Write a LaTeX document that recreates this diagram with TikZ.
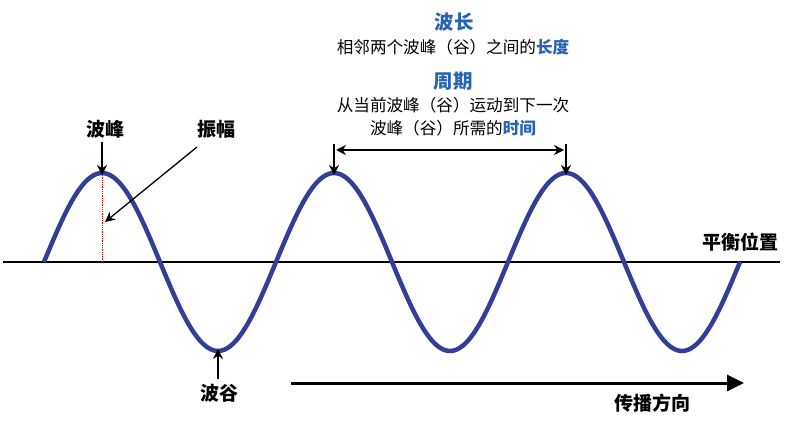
\documentclass[tikz,border=0pt]{standalone}
\usepackage{fontspec}
\setmainfont{Noto Sans CJK SC}
\usetikzlibrary{arrows.meta}
\definecolor{wavec}{RGB}{52,62,152}
\definecolor{titc}{RGB}{40,100,180}
\begin{document}
\begin{tikzpicture}[x=1pt,y=-1pt,
  wave/.style={wavec,line width=4.5pt},
  axisline/.style={black,line width=2.5pt},
  ptr/.style={black,line width=1.5pt,-{Stealth[length=10pt,width=10pt]}},
  dptr/.style={black,line width=1.5pt,{Stealth[length=10pt,width=10pt]}-{Stealth[length=10pt,width=10pt]}},
  lbl/.style={font=\fontsize{19}{21}\selectfont\bfseries,inner sep=0pt},
  desc/.style={font=\fontsize{16.6}{19}\selectfont,inner sep=0pt},
  tit/.style={font=\fontsize{19.5}{21}\selectfont\bfseries,text=titc,inner sep=0pt}]
\useasboundingbox (0,0) rectangle (787,422);
% axis
\coordinate (axL) at (3,262);
\coordinate (axR) at (780,262);
\draw[axisline] (axL) -- (axR);
% amplitude red dashed
\coordinate (p1) at (102,173);
\coordinate (p1b) at (102,262);
\draw[red!85!black,line width=0.8pt,densely dotted] (p1) -- (p1b);
% wave
\draw[wave] plot[domain=44:740,samples=240,smooth] (\x,{262-89*sin((\x-44)/232*360)});
\coordinate (p2) at (334,173);
\coordinate (p3) at (566,173);
\coordinate (t1) at (218,351);
% labels
\node[lbl] (bf) at (105,129) {波峰};
\node[lbl] (zf) at (216,129) {振幅};
\node[lbl] (bg) at (219,393) {波谷};
\node[lbl] (ph) at (740,242) {平衡位置};
\node[lbl] (cb) at (652,403) {传播方向};
% top texts
\node[tit] (bc) at (454,22) {波长};
\node[desc] (d1) at (453,47) {相邻两个波峰（谷）之间的{\bfseries\color{titc}长度}};
\node[tit] (zq) at (453,81) {周期};
\node[desc] (d2) at (453,105) {从当前波峰（谷）运动到下一次};
\node[desc] (d3) at (453,128) {波峰（谷）所需的{\bfseries\color{titc}时间}};
% arrows
\coordinate (a1s) at (102,142);
\draw[ptr] (a1s) -- ([yshift=-2pt]p1);
\coordinate (zs) at (197,147);
\coordinate (ze) at (105,222);
\draw[ptr,line width=1.3pt] (zs) -- (ze);
\coordinate (a2s) at (334,144);
\coordinate (a3s) at (566,144);
\draw[ptr] (a2s) -- ([yshift=-2pt]p2);
\draw[ptr] (a3s) -- ([yshift=-2pt]p3);
\coordinate (dl) at (336,150);
\coordinate (dr) at (564,150);
\draw[dptr] (dl) -- (dr);
\coordinate (tgs) at (218,379);
\draw[ptr] (tgs) -- ([yshift=2pt]t1);
\coordinate (ps) at (291,383);
\coordinate (pe) at (744,383);
\draw[black,line width=3pt,-{Triangle[length=17pt,width=16pt]}] (ps) -- (pe);
\end{tikzpicture}
\end{document}
